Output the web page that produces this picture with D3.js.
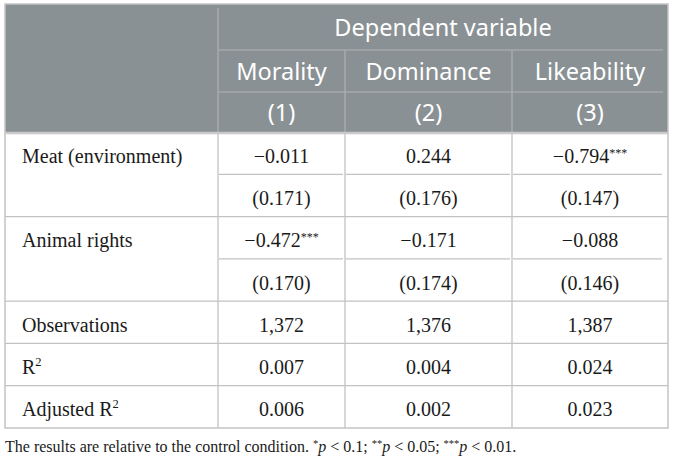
<!DOCTYPE html>
<html>
<head>
<meta charset="utf-8">
<script src="https://cdn.jsdelivr.net/npm/d3@7"></script>
<style>
  body { margin: 0; background: #fff; }
  svg { display: block; }
</style>
</head>
<body>
<div id="chart"></div>
<script>
// table content
const headerTitle = 'Dependent variable';
const columnNames = ['Morality', 'Dominance', 'Likeability'];
const columnNumbers = ['(1)', '(2)', '(3)'];

const predictors = ['Meat (environment)', 'Animal rights'];
const estimates = [
  ['−0.011', '0.244', '−0.794'],
  ['−0.472', '−0.171', '−0.088']
];
const estimateStars = [
  ['', '', '***'],
  ['***', '', '']
];
const stdErrors = [
  ['(0.171)', '(0.176)', '(0.147)'],
  ['(0.170)', '(0.174)', '(0.146)']
];

const statLabels = [['Observations', ''], ['R', '2'], ['Adjusted R', '2']];
const statValues = [
  ['1,372', '1,376', '1,387'],
  ['0.007', '0.004', '0.024'],
  ['0.006', '0.002', '0.023']
];

const render = () => {
  const W = 673, H = 465;
  const left = 5, right = 668, top = 4, headBottom = 132, bottom = 428;

  const headFill = '#8a9194';
  const headLine = '#aeb3b5';
  const bodyLine = '#c2c2c2';
  const sans = "'Noto Sans', 'Open Sans', sans-serif";
  const serif = "'Liberation Serif', 'Times New Roman', serif";

  const svg = d3.select('#chart')
    .append('svg')
    .attr('width', W)
    .attr('height', H);

  // columns: label column + 3 data columns
  const colKeys = ['label', 'c1', 'c2', 'c3'];
  const colX = d3.scaleOrdinal().domain(colKeys).range([left, 218, 345, 512]);
  const colW = d3.scaleOrdinal().domain(colKeys).range([218 - left, 345 - 218, 512 - 345, right - 512]);
  const colMid = k => colX(k) + colW(k) / 2;
  const dataCols = colKeys.slice(1);

  // header rows
  const yHead = d3.scaleOrdinal()
    .domain(['dv', 'name', 'num'])
    .range([[top, 50], [50, 92], [92, headBottom]]);

  // body rows
  const bodyRows = [];
  predictors.forEach((p, i) => {
    bodyRows.push({ key: 'est' + i, label: [p, ''], cells: estimates[i], stars: estimateStars[i], group: i });
    bodyRows.push({ key: 'se' + i, label: null, cells: stdErrors[i], stars: ['', '', ''], group: i });
  });
  statLabels.forEach((l, i) => {
    bodyRows.push({ key: 'stat' + i, label: l, cells: statValues[i], stars: ['', '', ''], group: 'stat' + i });
  });

  const y = d3.scaleBand()
    .domain(bodyRows.map(d => d.key))
    .range([headBottom, bottom]);

  // header background
  svg.append('rect')
    .attr('x', left).attr('y', top)
    .attr('width', right - left).attr('height', headBottom - top)
    .attr('fill', headFill);

  const hl = svg.append('g').attr('stroke', headLine).attr('stroke-width', 1.2);
  // header horizontal rules (data columns only)
  ['name', 'num'].forEach(k => {
    hl.append('line')
      .attr('x1', colX('c1')).attr('x2', right - 5)
      .attr('y1', yHead(k)[0]).attr('y2', yHead(k)[0]);
  });
  // header vertical rules
  hl.append('line')
    .attr('x1', colX('c1')).attr('x2', colX('c1'))
    .attr('y1', top + 4).attr('y2', headBottom);
  ['c2', 'c3'].forEach(k => {
    hl.append('line')
      .attr('x1', colX(k)).attr('x2', colX(k))
      .attr('y1', yHead('name')[0]).attr('y2', headBottom);
  });

  // header text
  const headText = (txt, x, k) => {
    const [a, b] = yHead(k);
    svg.append('text')
      .attr('x', x).attr('y', (a + b) / 2 + 8.5)
      .attr('text-anchor', 'middle')
      .attr('font-family', sans)
      .attr('font-size', 23.5)
      .attr('fill', '#fff')
      .text(txt);
  };
  headText(headerTitle, (colX('c1') + right) / 2, 'dv');
  dataCols.forEach((c, i) => {
    headText(columnNames[i], colMid(c), 'name');
    headText(columnNumbers[i], colMid(c), 'num');
  });

  // body grid
  const bl = svg.append('g').attr('stroke', bodyLine).attr('stroke-width', 1.3);
  bodyRows.forEach((r, i) => {
    const yb = y(r.key) + y.bandwidth();
    if (i === bodyRows.length - 1) return;
    const next = bodyRows[i + 1];
    const full = next.group !== r.group;
    if (full) {
      bl.append('line')
        .attr('x1', left).attr('x2', right)
        .attr('y1', yb).attr('y2', yb);
    } else {
      dataCols.forEach(c => {
        bl.append('line')
          .attr('x1', colX(c) + 1).attr('x2', colX(c) + colW(c) - (c === 'c3' ? 6 : 2))
          .attr('y1', yb).attr('y2', yb);
      });
    }
  });
  dataCols.forEach(c => {
    bl.append('line')
      .attr('x1', colX(c)).attr('x2', colX(c))
      .attr('y1', headBottom).attr('y2', bottom);
  });

  // outer border and header bottom rule
  svg.append('rect')
    .attr('x', left).attr('y', top)
    .attr('width', right - left).attr('height', bottom - top)
    .attr('fill', 'none')
    .attr('stroke', '#c4c4c4')
    .attr('stroke-width', 1.5);
  svg.append('line')
    .attr('x1', left).attr('x2', right)
    .attr('y1', headBottom + 1).attr('y2', headBottom + 1)
    .attr('stroke', '#c9c9c9')
    .attr('stroke-width', 2.5);

  // body text
  const body = svg.append('g')
    .attr('font-family', serif)
    .attr('font-size', 20)
    .attr('fill', '#1a1a1a');

  bodyRows.forEach(r => {
    const base = y(r.key) + y.bandwidth() / 2 + 9.5;
    if (r.label) {
      const t = body.append('text')
        .attr('x', 22).attr('y', base);
      t.append('tspan').text(r.label[0]);
      if (r.label[1]) {
        t.append('tspan')
          .attr('font-size', 12.5)
          .attr('dy', -8)
          .text(r.label[1]);
      }
    }
    dataCols.forEach((c, j) => {
      const t = body.append('text')
        .attr('x', colMid(c)).attr('y', base)
        .attr('text-anchor', 'middle');
      t.append('tspan').text(r.cells[j]);
      if (r.stars[j]) {
        t.append('tspan')
          .attr('font-size', 12)
          .attr('dy', -6)
          .text(r.stars[j]);
      }
    });
  });

  // footnote
  const note = svg.append('text')
    .attr('x', left)
    .attr('y', 452)
    .attr('font-family', serif)
    .attr('font-size', 16)
    .attr('fill', '#1a1a1a');
  note.append('tspan').text('The results are relative to the control condition. ');
  const levels = [['*', '0.1;'], ['**', '0.05;'], ['***', '0.01.']];
  levels.forEach(([s, v], i) => {
    note.append('tspan').attr('font-size', 10.5).attr('dy', -5).text(s);
    note.append('tspan').attr('font-style', 'italic').attr('dy', 5).text('p');
    note.append('tspan').text(' < ' + v + (i < levels.length - 1 ? ' ' : ''));
  });
};

render();
</script>
</body>
</html>
